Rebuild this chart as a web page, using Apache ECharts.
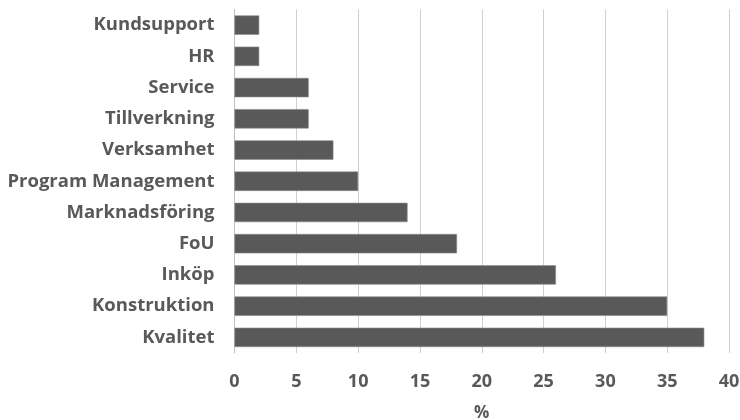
<!DOCTYPE html>
<html><head><meta charset="utf-8">
<script src="https://cdn.jsdelivr.net/npm/echarts@6/dist/echarts.min.js"></script>
<style>html,body{margin:0;padding:0;background:#fff}#c{width:740px;height:420px}</style>
</head><body><div id="c"></div>
<script>
const categories = ["Kvalitet","Konstruktion","Inköp","FoU","Marknadsföring","Program Management","Verksamhet","Tillverkning","Service","HR","Kundsupport"];
const values = [38,35,26,18,14,10,8,6,6,2,2];
const axisName = "%";

const chart = echarts.init(document.getElementById('c'), null, {renderer:'canvas'});
const font = '"Open Sans"';
chart.setOption({
  animation:false,
  grid:{left:234.5, right:11, top:9.5, bottom:67, containLabel:false, outerBoundsMode:'none'},
  xAxis:{type:'value', min:0, max:40, interval:5,
    name:axisName, nameLocation:'middle', nameGap:52,
    nameTextStyle:{color:'#595959', fontFamily:font, fontWeight:'bold', fontSize:17},
    axisLine:{show:false}, axisTick:{show:false},
    axisLabel:{color:'#595959', fontFamily:font, fontWeight:'bold', fontSize:18, margin:20},
    splitLine:{lineStyle:{color:'#d0d0d0', width:1}}},
  yAxis:{type:'category', data:categories,
    axisLine:{lineStyle:{color:'#bfbfbf'}}, axisTick:{show:false},
    axisLabel:{color:'#595959', fontFamily:font, fontWeight:'bold', fontSize:18.5, margin:20, padding:[4,0,0,0]}},
  series:[{type:'bar', data:values, barCategoryGap:'38%',
    itemStyle:{color:'#595959', borderColor:'#8a8a8a', borderWidth:0.6}}]
});
</script></body></html>
